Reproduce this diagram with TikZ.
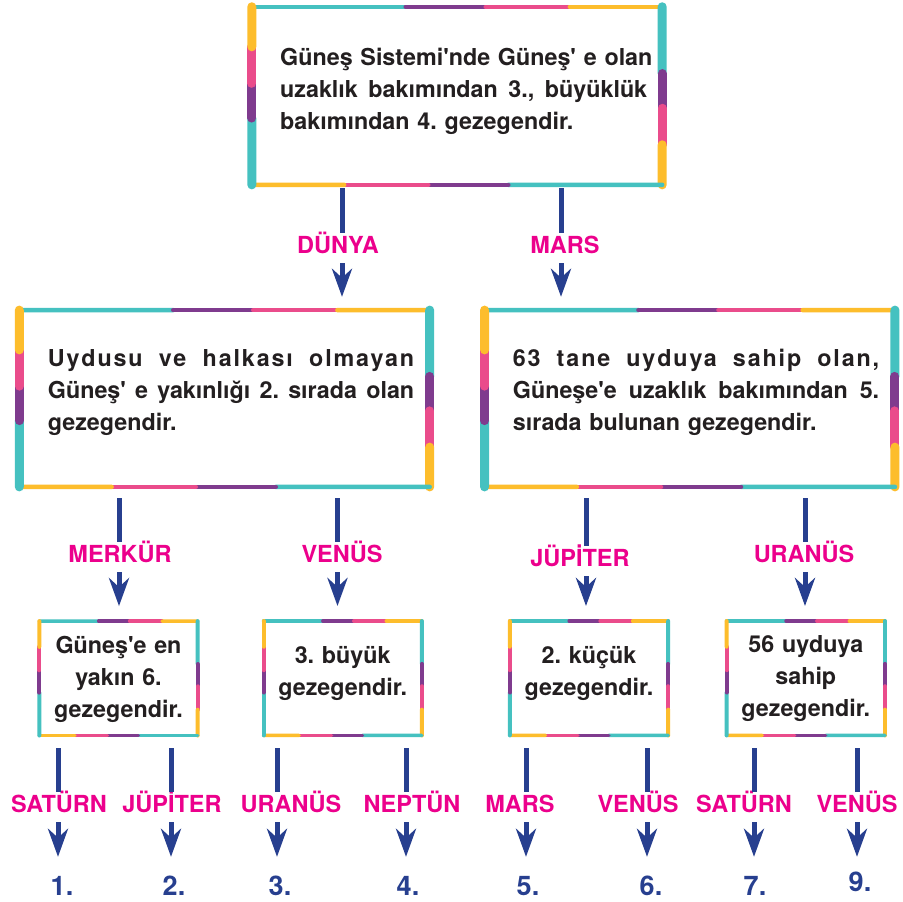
\documentclass[tikz,border=0pt]{standalone}
\usepackage{fontspec}
\setmainfont{TeX Gyre Heros}
\usetikzlibrary{calc,arrows.meta}
\frenchspacing

\definecolor{frteal}{HTML}{45C1C0}
\definecolor{frpurple}{HTML}{7F3B8E}
\definecolor{frpink}{HTML}{EA4C8B}
\definecolor{fryellow}{HTML}{FDBD2C}
\definecolor{arrblue}{HTML}{273F8F}
\definecolor{lblpink}{HTML}{EC008C}
\definecolor{txtgray}{HTML}{231F20}

\newcommand\q{\textquotesingle}
\newcommand\gap{\hfill\ }
\newcommand\spread[2][366.3pt]{\hbox to #1{#2}}
\newcommand\tracked[1]{{\addfontfeatures{LetterSpace=8}#1}}

\tikzset{
  panel/.style={rectangle, inner sep=0pt},
  boxtext/.style={inner sep=0pt, text=txtgray, font=\fontsize{23.3}{32}\selectfont\bfseries\frenchspacing},
  planet/.style={inner xsep=0pt, inner ysep=3.5pt, text height=17pt, text depth=6pt, text=lblpink, font=\fontsize{23.5}{28}\selectfont\bfseries},
  num/.style={inner sep=0pt, text height=19.5pt, text depth=0pt, text=arrblue, font=\fontsize{27}{30}\selectfont\bfseries},
  stem/.style={draw=arrblue, line width=5pt},
  arr/.style={draw=arrblue, line width=5pt, -{Stealth[length=28pt,width=20pt,inset=9pt]}},
}

% coloured frame round a node: (node)(top/bottom width:side width)
\def\rainbowframe(#1)(#2:#3){%
  \foreach \a/\b/\w in {north west/north east/#2,north east/south east/#3,south east/south west/#2,south west/north west/#3}
    \foreach \s/\e/\c in {0/0.375/frteal,0.375/0.57/frpurple,0.57/0.775/frpink,0.775/1/fryellow}
      \draw[\c, line width=\w pt, line cap=round] ($(#1.\a)!\s!(#1.\b)$) -- ($(#1.\a)!\e!(#1.\b)$);
}
% box -> label -> next, stem at x
\def\link(#1)(#2)(#3)(#4){%
  \draw[stem] (#1.south -| #4,0) -- (#2.north -| #4,0);
  \draw[arr] (#2.south -| #4,0) -- (#3.north -| #4,0);
}

\begin{document}
\begin{tikzpicture}[x=1pt,y=-1pt]
    \fill[white] (0,0) rectangle (903,902);
    \useasboundingbox (0,0) rectangle (903,902);

    %%%%% BOXES %%%%%
    \node[panel, minimum width=410pt, minimum height=177.7pt] (sun) at (457,95.8) {};
    \node[boxtext, text width=367pt, anchor=base west] (suntext) at (280,65)
      {\spread[367pt]{Güneş\gap Sistemi\q nde\gap Güneş\q\gap e\gap olan}
       \spread[367pt]{uzaklık\gap bakımından\gap 3.,\gap büyüklük}
       \hbox{bakımından 4. gezegendir.}};

    \node[panel, minimum width=410pt, minimum height=176.4pt] (leftbox) at (224.5,398.5) {};
    \node[boxtext, text width=366.3pt, anchor=base west] (lefttext) at (47.7,366.7)
      {\spread{\tracked{Uydusu\gap ve\gap halkası\gap olmayan}}
       \spread{Güneş\q\gap e\gap yakınlığı\gap 2.\gap sırada\gap olan}
       \hbox{gezegendir.}};

    \node[panel, minimum width=410pt, minimum height=176.4pt] (rightbox) at (689.75,398.5) {};
    \node[boxtext, text width=366.3pt, anchor=base west] (righttext) at (512.7,366.3)
      {\spread{\tracked{63\gap tane\gap uyduya\gap sahip\gap olan,}}
       \spread{Güneşe\q e\gap uzaklık\gap bakımından\gap 5.}
       \hbox{sırada bulunan gezegendir.}};

    \node[panel, minimum width=158pt, minimum height=114pt] (small1) at (118.5,678.3) {};
    \node[boxtext, text width=150pt, align=center, anchor=base] (smalltext1) at (118.5,653.5) {Güneş\q e en\\yakın 6.\\gezegendir.};
    \node[panel, minimum width=158pt, minimum height=114pt] (small2) at (342.7,678.2) {};
    \node[boxtext, text width=150pt, align=center, anchor=base] (smalltext2) at (342.7,663.3) {3. büyük\\gezegendir.};
    \node[panel, minimum width=158pt, minimum height=114pt] (small3) at (589,678.2) {};
    \node[boxtext, text width=150pt, align=center, anchor=base] (smalltext3) at (589,663.3) {2. küçük\\gezegendir.};
    \node[panel, minimum width=158pt, minimum height=114pt] (small4) at (805.8,678.2) {};
    \node[boxtext, text width=150pt, align=center, anchor=base] (smalltext4) at (805.8,652.7) {56 uyduya\\sahip\\gezegendir.};

    \rainbowframe(sun)(4.5:9)
    \rainbowframe(leftbox)(4.5:9)
    \rainbowframe(rightbox)(4.5:9)
    \rainbowframe(small1)(3.5:4)
    \rainbowframe(small2)(3.5:4)
    \rainbowframe(small3)(3.5:4)
    \rainbowframe(small4)(3.5:4)

    %%%%% LABELS %%%%%
    \node[planet, anchor=base] (dunya) at (338,253.3) {DÜNYA};
    \node[planet, anchor=base] (mars) at (565,253.3) {MARS};

    \node[planet, anchor=base] (merkur) at (120,562.3) {MERKÜR};
    \node[planet, anchor=base] (venus) at (342,562.3) {VENÜS};
    \node[planet, anchor=base] (jupiter) at (580,566.7) {JÜPİTER};
    \node[planet, anchor=base] (uranus) at (804,562.3) {URANÜS};

    \node[planet, anchor=base] (saturn1) at (59,812.5) {SATÜRN};
    \node[planet, anchor=base] (jupiter1) at (172,812.5) {JÜPİTER};
    \node[planet, anchor=base] (uranus1) at (291,812.5) {URANÜS};
    \node[planet, anchor=base] (neptun1) at (412,812.5) {NEPTÜN};
    \node[planet, anchor=base] (mars1) at (520,812.5) {MARS};
    \node[planet, anchor=base] (venus1) at (638,812.5) {VENÜS};
    \node[planet, anchor=base] (saturn2) at (744,812.5) {SATÜRN};
    \node[planet, anchor=base] (venus2) at (857,812.5) {VENÜS};

    \node[num, anchor=base] (n1) at (62,895) {1.};
    \node[num, anchor=base] (n2) at (174,895) {2.};
    \node[num, anchor=base] (n3) at (280,895) {3.};
    \node[num, anchor=base] (n4) at (408,895) {4.};
    \node[num, anchor=base] (n5) at (528,895) {5.};
    \node[num, anchor=base] (n6) at (651,895) {6.};
    \node[num, anchor=base] (n7) at (755,895) {7.};
    \node[num, anchor=base] (n9) at (860,891.7) {9.};

    %%%%% ARROWS %%%%%
    \begin{scope}[stem/.append style={shorten <=3.3pt}, arr/.append style={shorten >=13.3pt}]
      \link(sun)(dunya)(leftbox)(342)
      \link(sun)(mars)(rightbox)(561)
    \end{scope}
    \begin{scope}[stem/.append style={shorten <=11.3pt}, arr/.append style={shorten >=15pt}]
      \link(leftbox)(merkur)(small1)(119)
      \link(leftbox)(venus)(small2)(337.5)
      \link(rightbox)(jupiter)(small3)(586)
      \link(rightbox)(uranus)(small4)(805)
    \end{scope}
    \begin{scope}[stem/.append style={shorten <=12.7pt}, arr/.append style={shorten >=18.5pt}]
      \link(small1)(saturn1)(n1)(58)
      \link(small1)(jupiter1)(n2)(171)
      \link(small2)(uranus1)(n3)(277)
      \link(small2)(neptun1)(n4)(406)
      \link(small3)(mars1)(n5)(526)
      \link(small3)(venus1)(n6)(647)
      \link(small4)(saturn2)(n7)(754)
    \end{scope}
    \begin{scope}[stem/.append style={shorten <=12.7pt}, arr/.append style={shorten >=15.2pt}]
      \link(small4)(venus2)(n9)(857)
    \end{scope}
\end{tikzpicture}
\end{document}
